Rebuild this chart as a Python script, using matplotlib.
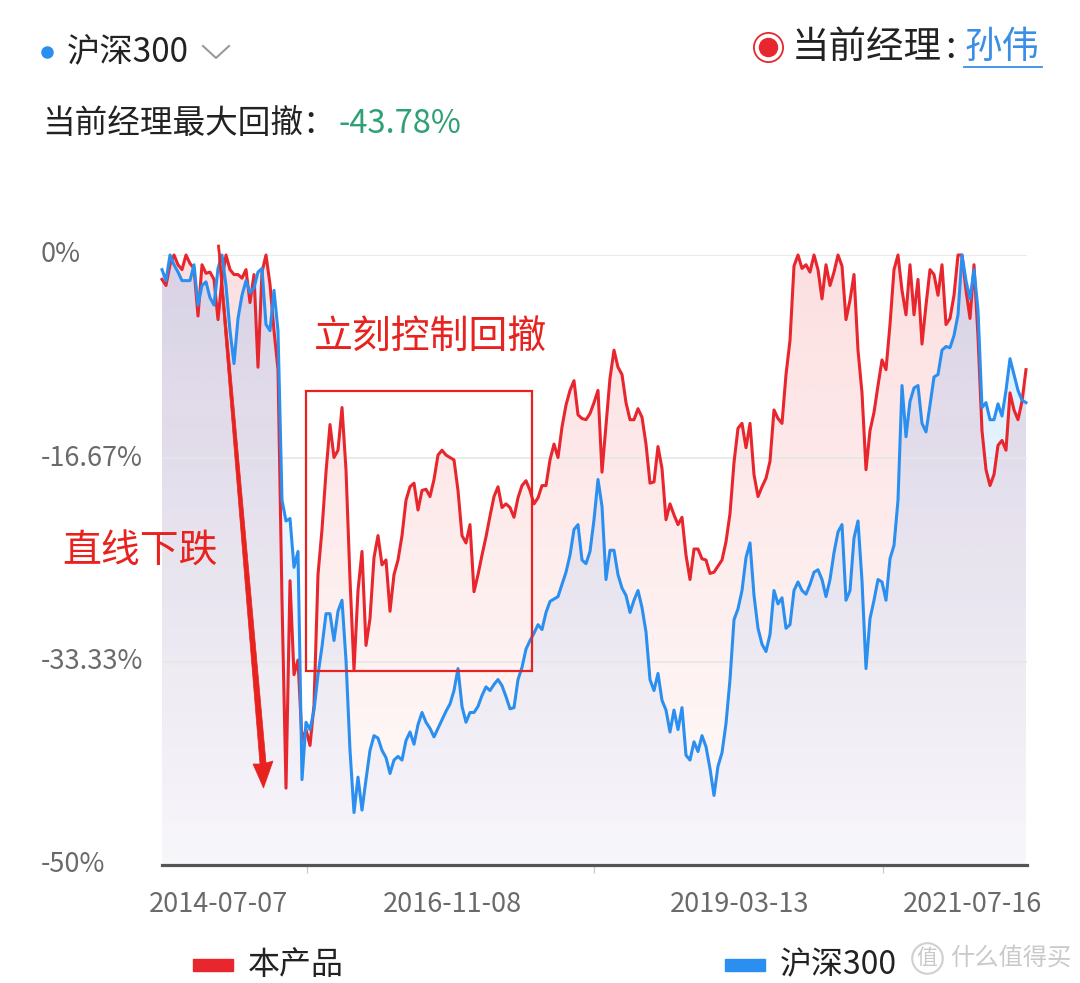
import numpy as np
import matplotlib
matplotlib.use('Agg')
import matplotlib.pyplot as plt
from matplotlib.colors import to_rgb
from matplotlib.patches import Rectangle, Polygon
from matplotlib.lines import Line2D
import matplotlib.transforms as mtransforms

plt.rcParams['font.family'] = ['Noto Sans CJK SC', 'DejaVu Sans']

# ---------------- data (drawdown, %) ----------------
red = [
    -2.0, -2.5, -0.8, 0.0, -0.8, -1.2, 0.0, -0.7, -1.1, -5.0,
    -0.8, -1.5, -1.4, -2.0, -5.3, -2.0, 0.0, -1.2, -1.6, -1.6,
    -1.9, -1.2, -3.9, -1.6, -9.2, -1.4, 0.0, -2.4, -6.2, -9.4,
    -28.3, -43.7, -26.7, -34.4, -33.2, -39.8, -38.9, -40.2, -36.9, -26.2,
    -22.5, -17.8, -13.9, -16.6, -16.0, -12.5, -17.6, -26.6, -34.0, -27.5,
    -24.3, -32.0, -29.8, -24.8, -23.0, -25.4, -25.0, -29.2, -26.2, -25.0,
    -23.0, -20.1, -19.0, -18.7, -20.9, -19.3, -19.2, -19.8, -18.4, -16.4,
    -16.0, -16.4, -16.6, -16.8, -19.3, -23.0, -23.6, -22.1, -27.6, -26.2,
    -24.6, -23.1, -21.4, -19.8, -19.0, -20.7, -20.4, -20.7, -21.5, -19.9,
    -18.9, -18.5, -19.3, -20.4, -19.9, -18.9, -18.9, -16.8, -15.5, -16.6,
    -14.1, -12.3, -11.1, -10.3, -13.1, -13.4, -13.5, -13.0, -12.1, -11.1,
    -17.8, -13.9, -10.1, -7.8, -9.2, -9.8, -12.1, -13.5, -13.5, -12.6,
    -13.3, -15.5, -18.7, -18.6, -15.7, -17.5, -21.7, -20.4, -21.3, -22.1,
    -21.5, -24.6, -26.6, -24.1, -24.1, -24.9, -25.0, -26.1, -26.0, -25.5,
    -25.0, -23.5, -21.2, -17.0, -14.2, -13.8, -15.8, -13.8, -18.0, -19.8,
    -19.0, -18.3, -16.9, -12.7, -13.4, -13.8, -9.8, -7.0, -0.9, 0.0,
    -1.1, -0.8, -1.4, 0.0, -1.2, -3.6, -0.8, -2.5, -1.4, 0.0,
    -0.9, -5.3, -3.7, -1.6, -7.8, -11.3, -17.6, -14.4, -12.9, -10.7,
    -8.6, -9.4, -5.7, -1.2, 0.0, -2.9, -4.9, -0.8, -4.9, -2.0,
    -7.3, -4.1, -1.2, -1.6, -3.3, -0.8, -5.7, -5.2, -3.3, 0.0,
    0.0, -2.9, -5.2, -0.8, -6.7, -14.4, -17.6, -18.9, -18.0, -15.6,
    -15.2, -16.0, -11.3, -12.7, -13.5, -12.0, -9.4,
]
hs300 = [
    -1.2, -2.1, 0.0, -0.8, -1.4, -2.1, -2.1, -2.1, -0.8, -4.1,
    -2.5, -2.2, -3.5, -4.1, -1.1, 0.0, -2.5, -6.2, -8.9, -5.2,
    -3.3, -2.1, -3.1, -2.7, -1.4, -1.1, -5.7, -6.2, -2.9, -6.2,
    -20.1, -21.8, -21.6, -25.6, -24.3, -43.0, -38.3, -38.9, -37.3, -34.4,
    -32.1, -29.4, -29.4, -31.6, -29.2, -28.3, -33.2, -40.6, -45.7, -42.8,
    -45.5, -43.0, -40.6, -39.4, -39.6, -40.6, -41.2, -42.5, -41.4, -41.1,
    -41.4, -39.8, -39.1, -40.1, -38.5, -37.5, -38.3, -38.8, -39.5, -38.8,
    -38.1, -37.4, -36.8, -35.7, -33.9, -37.0, -38.3, -37.5, -37.5, -37.0,
    -36.1, -35.4, -35.7, -35.2, -34.8, -35.3, -36.2, -37.2, -37.1, -34.8,
    -33.8, -32.3, -31.6, -31.0, -30.3, -30.7, -29.3, -28.4, -28.2, -28.0,
    -27.0, -26.0, -24.6, -22.5, -22.1, -25.0, -25.3, -24.3, -21.7, -18.4,
    -20.6, -26.6, -24.2, -24.2, -26.2, -27.3, -27.9, -29.3, -28.3, -27.5,
    -28.9, -30.9, -34.8, -35.7, -34.3, -36.5, -37.3, -39.1, -37.3, -38.9,
    -37.1, -41.0, -41.4, -39.9, -40.7, -39.4, -40.3, -42.1, -44.3, -41.9,
    -40.8, -38.4, -34.8, -29.9, -29.0, -27.5, -24.8, -23.6, -27.9, -30.6,
    -31.9, -32.5, -31.1, -27.5, -28.6, -28.1, -30.6, -30.3, -27.5, -26.8,
    -27.5, -27.8, -27.0, -26.0, -25.8, -26.6, -28.0, -26.6, -24.4, -22.7,
    -22.1, -28.3, -27.5, -23.2, -21.8, -26.7, -33.9, -29.8, -28.3, -26.6,
    -26.8, -28.3, -24.9, -23.8, -20.1, -10.7, -14.9, -12.0, -10.9, -10.7,
    -13.8, -14.5, -12.3, -10.0, -9.8, -7.8, -7.5, -7.6, -6.6, -4.9,
    0.0, -2.1, -3.6, -1.2, -4.5, -12.5, -12.1, -13.5, -13.5, -12.2,
    -13.2, -11.1, -8.5, -9.8, -11.1, -11.9, -12.1,
]
series_names = ['本产品', '沪深300']
y_ticks = [0, -16.67, -33.33, -50]
y_ticklabels = ['0%', '-16.67%', '-33.33%', '-50%']
x_labels = ['2014-07-07', '2016-11-08', '2019-03-13', '2021-07-16']
max_dd_text = '-43.78%'
manager = '孙伟'

# ---------------- style ----------------
RED = '#e8262d'
BLUE = '#2b8ff0'
ANN = '#e8221e'
W, H = 1080, 983

fig = plt.figure(figsize=(W / 100, H / 100), dpi=100)
fig.patch.set_facecolor('white')


def fx(x):
    return x / W


def fy(y):
    return 1 - y / H


ax = fig.add_axes([fx(162), fy(865), (1027 - 162) / W, (865 - 255) / H])
n = len(red)
idx = np.arange(n)
xmax = n - 1 + 0.25
ax.set_xlim(0, xmax)
ax.set_ylim(-50, 0)
for s in ax.spines.values():
    s.set_visible(False)
ax.set_yticks([])


def gradient_fill(xv, yv, color, a_top, a_bot, z):
    poly = ax.fill_between(xv, yv, -50, facecolor='none', edgecolor='none')
    path = poly.get_paths()[0]
    rgb = to_rgb(color)
    img = np.zeros((256, 1, 4))
    img[..., 0], img[..., 1], img[..., 2] = rgb
    img[:, 0, 3] = np.linspace(a_top, a_bot, 256)
    im = ax.imshow(img, aspect='auto', extent=[0, xmax, -50, 0],
                   origin='upper', zorder=z, interpolation='bilinear')
    im.set_clip_path(path, transform=ax.transData)


gradient_fill(idx, red, '#ee1c25', 0.14, 0.02, 1)
gradient_fill(idx, hs300, '#1e90ff', 0.16, 0.03, 1.5)
ax.set_xlim(0, xmax)
ax.set_ylim(-50, 0)

for v in y_ticks[:-1]:
    ax.axhline(v, color='#e6e6e6', lw=1.2, zorder=2)
ax.axhline(-50, color='#555555', lw=2.3, zorder=6, clip_on=False)

ax.plot(idx, red, color=RED, lw=2.2, zorder=4, clip_on=False,
        solid_joinstyle='round')
ax.plot(idx, hs300, color=BLUE, lw=2.2, zorder=5, clip_on=False,
        solid_joinstyle='round')

# x ticks (between label groups)
tick_pos = [36.25, 108, 180.25]
ax.set_xticks(tick_pos)
ax.set_xticklabels([''] * len(tick_pos))
ax.tick_params(axis='x', length=6, width=1, color='#cccccc', direction='out')

label_pos = [14, 72.5, 144.5, 202.5]
tx = mtransforms.blended_transform_factory(ax.transData, ax.transAxes)
for p, lab in zip(label_pos, x_labels):
    ax.text(p, -(904 - 865) / 610, lab, transform=tx, ha='center',
            va='center', fontsize=19.5, color='#6a6a6a')

ty = mtransforms.blended_transform_factory(fig.transFigure, ax.transData)
for v, lab in zip(y_ticks, y_ticklabels):
    fig.text(fx(41), v, lab, transform=ty, ha='left', va='center',
             fontsize=19.5, color='#6a6a6a')

# ---------------- header ----------------
fig.add_artist(Line2D([fx(47)], [fy(52)], marker='o', markersize=8,
                      color=BLUE, transform=fig.transFigure))
fig.text(fx(67), fy(52), '沪深300', fontsize=24, color='#222222',
         ha='left', va='center')
fig.add_artist(Line2D([fx(203), fx(216), fx(229)], [fy(46), fy(58), fy(46)],
                      color='#9a9a9a', lw=1.5, transform=fig.transFigure))
fig.text(fx(42), fy(124), '当前经理最大回撤：', fontsize=23.5,
         color='#222222', ha='left', va='center')
fig.text(fx(338), fy(124), max_dd_text, fontsize=23.5, color='#2f9f74',
         ha='left', va='center')

fig.add_artist(Line2D([fx(768)], [fy(47)], marker='o', markersize=21,
                      markerfacecolor='white', markeredgecolor=RED, mew=1.3,
                      transform=fig.transFigure))
fig.add_artist(Line2D([fx(768)], [fy(47)], marker='o', markersize=13,
                      color=RED, transform=fig.transFigure))
fig.text(fx(792), fy(47), '当前经理', fontsize=27, color='#222222',
         ha='left', va='center')
fig.text(fx(945), fy(47), ':', fontsize=27, color='#222222',
         ha='left', va='center')
fig.text(fx(964), fy(47), manager, fontsize=27, color='#3a8ee6',
         ha='left', va='center')
fig.add_artist(Line2D([fx(964), fx(1042)], [fy(67), fy(67)], color='#3a8ee6',
                      lw=1.3, transform=fig.transFigure))

# ---------------- annotations ----------------
fig.text(fx(430), fy(338), '立刻控制回撤', fontsize=28, color=ANN,
         ha='center', va='center')
fig.text(fx(140), fy(552), '直线下跌', fontsize=28, color=ANN,
         ha='center', va='center')
fig.add_artist(Rectangle((fx(306), fy(671)), (532 - 306) / W, (671 - 391) / H,
                         fill=False, edgecolor=ANN, lw=1.6,
                         transform=fig.transFigure, zorder=10))
arrow_px = [(217.5, 245), (219.5, 245), (266, 763), (273, 761),
            (263.5, 788), (253, 764), (260, 764)]
fig.add_artist(Polygon([(fx(a), fy(b)) for a, b in arrow_px], closed=True,
                       facecolor=ANN, edgecolor=ANN, lw=0.5,
                       transform=fig.transFigure, zorder=10))

# ---------------- legend ----------------
fig.add_artist(Rectangle((fx(193), fy(971)), 40 / W, 12 / H, color=RED,
                         transform=fig.transFigure))
fig.text(fx(248), fy(965), series_names[0], fontsize=23, color='#222222',
         ha='left', va='center')
fig.add_artist(Rectangle((fx(725), fy(971)), 40 / W, 12 / H, color=BLUE,
                         transform=fig.transFigure))
fig.text(fx(780), fy(965), series_names[1], fontsize=23, color='#222222',
         ha='left', va='center')

# watermark
fig.text(fx(927), fy(958), '值', fontsize=15, color='#c9c9c9',
         ha='center', va='center')
fig.add_artist(Line2D([fx(927)], [fy(958)], marker='o', markersize=22,
                      markerfacecolor='none', markeredgecolor='#d0d0d0',
                      mew=1.5, transform=fig.transFigure))
fig.text(fx(950), fy(958), '什么值得买', fontsize=17.5, color='#c9c9c9',
         ha='left', va='center')

fig.savefig('out.png', dpi=100, facecolor='white')
